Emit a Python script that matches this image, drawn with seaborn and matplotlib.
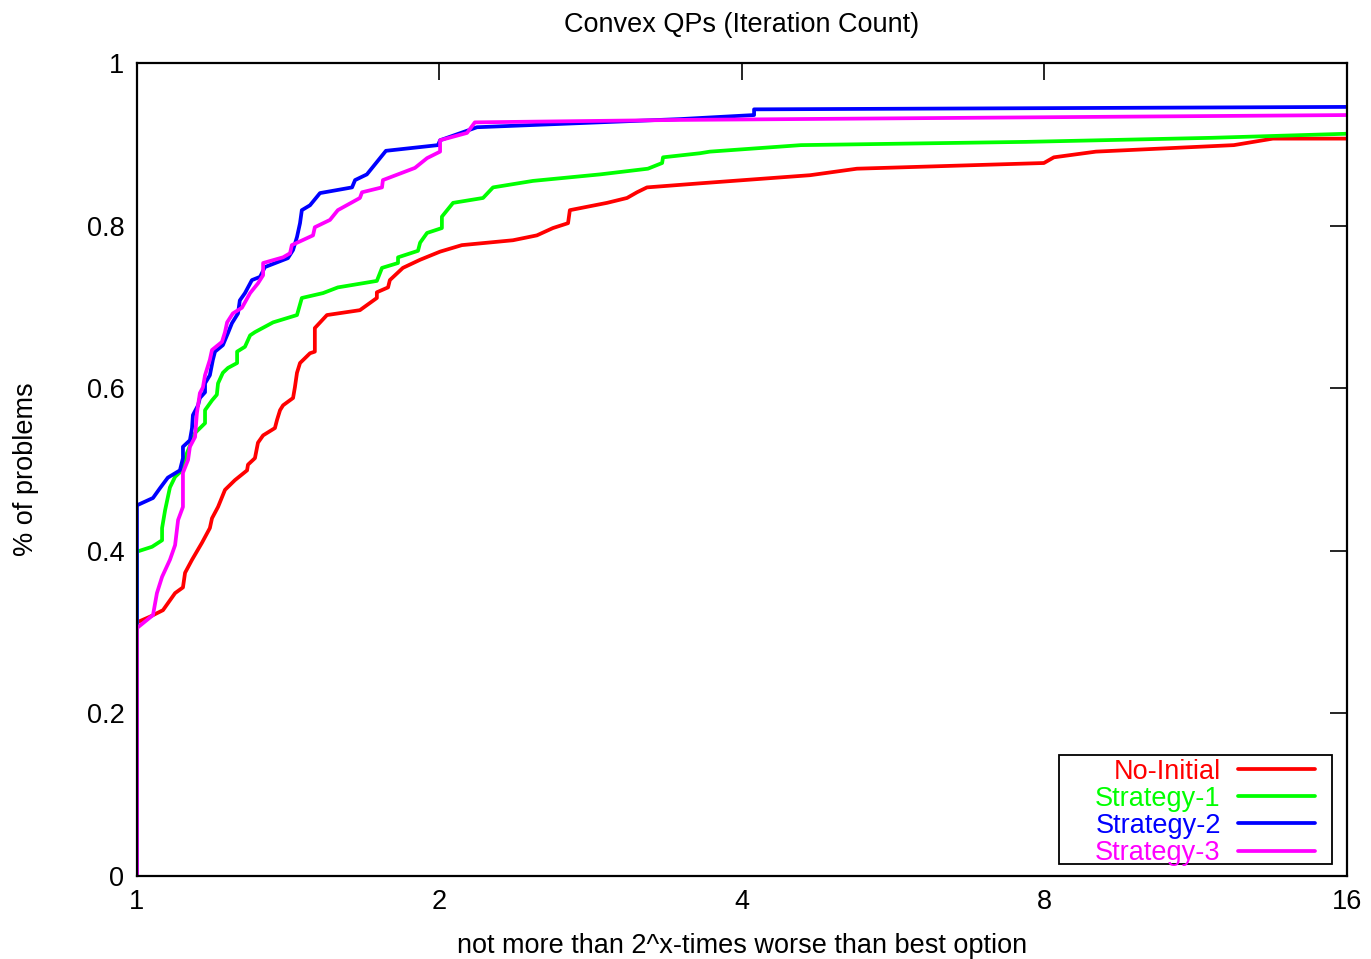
import matplotlib
matplotlib.use("Agg")
import matplotlib.pyplot as plt
from matplotlib.patches import Rectangle
import seaborn as sns
import pandas as pd

# x = log2 of the ratio to the best option, y = fraction of problems solved
no_initial_x = [0, 0, 0.043, 0.086, 0.126, 0.152, 0.159, 0.182, 0.215, 0.241, 0.248, 0.268,
                0.291, 0.324, 0.364, 0.367, 0.390, 0.400, 0.417, 0.456, 0.463, 0.473, 0.483,
                0.516, 0.522, 0.529, 0.539, 0.572, 0.588, 0.588, 0.628, 0.737, 0.793, 0.793,
                0.830, 0.836, 0.879, 0.936, 1.002, 1.074, 1.243, 1.322, 1.375, 1.425, 1.431,
                1.554, 1.620, 1.653, 1.686, 1.861, 2.225, 2.380, 2.998, 3.031, 3.170, 3.626,
                3.755, 4.0]
no_initial_y = [0, 0.312, 0.319, 0.327, 0.348, 0.355, 0.373, 0.389, 0.410, 0.428, 0.440, 0.454,
                0.475, 0.487, 0.499, 0.506, 0.514, 0.533, 0.542, 0.551, 0.561, 0.573, 0.579,
                0.588, 0.601, 0.619, 0.631, 0.643, 0.645, 0.674, 0.690, 0.696, 0.711, 0.718,
                0.724, 0.733, 0.748, 0.758, 0.768, 0.776, 0.782, 0.788, 0.797, 0.803, 0.819,
                0.828, 0.834, 0.841, 0.847, 0.852, 0.862, 0.870, 0.877, 0.884, 0.891, 0.899,
                0.907, 0.907]

strategy1_x = [0, 0, 0.050, 0.083, 0.083, 0.093, 0.109, 0.126, 0.149, 0.165, 0.192, 0.225,
               0.225, 0.248, 0.264, 0.268, 0.284, 0.301, 0.331, 0.331, 0.357, 0.374, 0.390,
               0.450, 0.529, 0.545, 0.615, 0.664, 0.793, 0.810, 0.863, 0.863, 0.929, 0.936,
               0.959, 1.008, 1.008, 1.045, 1.144, 1.177, 1.309, 1.531, 1.689, 1.736, 1.739,
               1.861, 1.894, 2.195, 2.939, 3.554, 4.0]
strategy1_y = [0, 0.399, 0.405, 0.413, 0.428, 0.450, 0.478, 0.491, 0.499, 0.520, 0.545, 0.557,
               0.573, 0.585, 0.592, 0.606, 0.619, 0.625, 0.631, 0.645, 0.651, 0.665, 0.669,
               0.681, 0.690, 0.711, 0.717, 0.724, 0.732, 0.748, 0.754, 0.761, 0.769, 0.779,
               0.791, 0.797, 0.811, 0.828, 0.834, 0.847, 0.855, 0.863, 0.870, 0.877, 0.884,
               0.889, 0.891, 0.899, 0.903, 0.908, 0.913]

strategy2_x = [0, 0, 0.053, 0.076, 0.102, 0.142, 0.152, 0.152, 0.175, 0.182, 0.185, 0.202,
               0.208, 0.225, 0.225, 0.241, 0.251, 0.258, 0.284, 0.301, 0.314, 0.334, 0.340,
               0.357, 0.380, 0.407, 0.423, 0.499, 0.516, 0.529, 0.539, 0.545, 0.572, 0.605,
               0.711, 0.721, 0.760, 0.823, 0.995, 1.002, 1.124, 1.795, 2.040, 2.040, 4.0]
strategy2_y = [0, 0.456, 0.465, 0.477, 0.490, 0.499, 0.514, 0.528, 0.536, 0.551, 0.567, 0.579,
               0.588, 0.595, 0.606, 0.616, 0.635, 0.645, 0.653, 0.668, 0.680, 0.692, 0.708,
               0.717, 0.733, 0.737, 0.749, 0.760, 0.770, 0.786, 0.803, 0.819, 0.825, 0.840,
               0.847, 0.856, 0.863, 0.892, 0.899, 0.905, 0.921, 0.931, 0.936, 0.943, 0.946]

strategy3_x = [0, 0, 0.053, 0.066, 0.083, 0.109, 0.126, 0.136, 0.152, 0.152, 0.169, 0.175,
               0.192, 0.198, 0.208, 0.218, 0.225, 0.241, 0.248, 0.281, 0.291, 0.298, 0.317,
               0.347, 0.374, 0.400, 0.417, 0.417, 0.483, 0.506, 0.512, 0.582, 0.588, 0.638,
               0.664, 0.737, 0.744, 0.810, 0.813, 0.919, 0.959, 1.002, 1.002, 1.091, 1.117,
               1.795, 4.0]
strategy3_y = [0, 0.305, 0.321, 0.348, 0.368, 0.389, 0.407, 0.438, 0.454, 0.496, 0.512, 0.528,
               0.540, 0.569, 0.594, 0.601, 0.616, 0.635, 0.647, 0.657, 0.669, 0.681, 0.692,
               0.699, 0.717, 0.729, 0.739, 0.754, 0.761, 0.766, 0.776, 0.788, 0.798, 0.807,
               0.819, 0.834, 0.841, 0.847, 0.856, 0.871, 0.883, 0.891, 0.905, 0.914, 0.927,
               0.930, 0.936]

series_names = ["No-Initial", "Strategy-1", "Strategy-2", "Strategy-3"]
series_colors = ["#ff0000", "#00ff00", "#0000ff", "#ff00ff"]
x_ticks = [0, 1, 2, 3, 4]
x_tick_labels = ["1", "2", "4", "8", "16"]
y_ticks = [0, 0.2, 0.4, 0.6, 0.8, 1]
y_tick_labels = ["0", "0.2", "0.4", "0.6", "0.8", "1"]

frames = []
for name, xs, ys in zip(series_names,
                        [no_initial_x, strategy1_x, strategy2_x, strategy3_x],
                        [no_initial_y, strategy1_y, strategy2_y, strategy3_y]):
    frames.append(pd.DataFrame({"x": xs, "y": ys, "series": name}))
df = pd.concat(frames, ignore_index=True)

sns.set_style("white")
plt.rcParams["font.family"] = ["Liberation Sans", "DejaVu Sans"]
plt.rcParams["text.color"] = "black"
plt.rcParams["axes.labelcolor"] = "black"
FS = 19.5

fig = plt.figure(figsize=(13.71, 9.59), dpi=100)
ax = fig.add_axes([0.0999, 0.0865, 0.8826, 0.8478])

sns.lineplot(data=df, x="x", y="y", hue="series", units="series", estimator=None,
             sort=False, palette=dict(zip(series_names, series_colors)),
             linewidth=2.7, ax=ax)

ax.set_xlim(0, 4)
ax.set_ylim(0, 1)
ax.set_xticks(x_ticks)
ax.set_xticklabels(x_tick_labels)
ax.set_yticks(y_ticks)
ax.set_yticklabels(y_tick_labels)
ax.tick_params(direction="in", length=12, width=1.2, top=True, right=True,
               labelsize=FS, pad=9, colors="black")
for spine in ax.spines.values():
    spine.set_color("black")
    spine.set_linewidth(1.6)

ax.set_title("Convex QPs (Iteration Count)", fontsize=FS, pad=22)
ax.set_xlabel("not more than 2^x-times worse than best option", fontsize=FS)
ax.set_ylabel("% of problems", fontsize=FS)
ax.xaxis.set_label_coords(0.5, -0.070)
ax.yaxis.set_label_coords(-0.081, 0.5)

# gnuplot-style key: right-aligned labels, loose box drawn separately
ax.add_patch(Rectangle((0.762, 0.0148), 0.226, 0.134, transform=ax.transAxes,
                       facecolor="white", edgecolor="black", linewidth=1.3, zorder=4))
leg = ax.legend(loc="lower right", bbox_to_anchor=(0.9736, 0.0123), borderaxespad=0,
                markerfirst=False, labelcolor="linecolor", fontsize=FS, frameon=False,
                handlelength=2.85, handletextpad=0.63, labelspacing=0.04, borderpad=0)
leg.set_zorder(5)
for line in leg.get_lines():
    line.set_linewidth(2.7)

fig.savefig("out.png", dpi=100)
